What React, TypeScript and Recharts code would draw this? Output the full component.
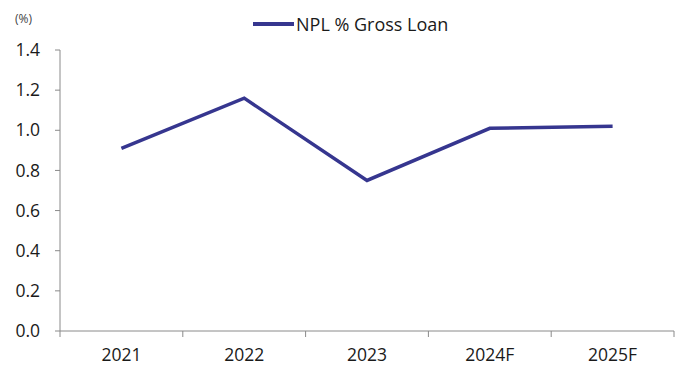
import { LineChart, Line, XAxis, YAxis } from "recharts";

const years = ["2021", "2022", "2023", "2024F", "2025F"];
const nplGrossLoan = [0.91, 1.16, 0.75, 1.01, 1.02];
const yTicks = [0, 0.2, 0.4, 0.6, 0.8, 1.0, 1.2, 1.4];

const data = years.map((year, i) => ({ pos: i + 0.5, year, npl: nplGrossLoan[i] }));
const xTicks = [0, ...years.flatMap((_, i) => [i + 0.5, i + 1])];

const FONT = "'Open Sans', sans-serif";
const LINE = "#36368f";

function XTick(props: any) {
    const { x, y, payload } = props;
    const v = payload.value as number;
    if (Number.isInteger(v)) {
        return <line x1={x} x2={x} y1={y} y2={y + 6} stroke="#8a8a8a" strokeWidth={1} />;
    }
    const label = years[Math.floor(v)];
    return (
        <text x={x} y={y + 30} textAnchor="middle" fontFamily={FONT} fontSize={17.5} fill="#1a1a1a">
            {label}
        </text>
    );
}

export default function App() {
    return (
        <div style={{ position: "absolute", left: 0, top: 0, width: 683, height: 368, background: "#fff" }}>
            <LineChart width={683} height={368} data={data} margin={{ top: 50, right: 9, bottom: 7, left: 0 }}>
                <XAxis
                    dataKey="pos"
                    type="number"
                    domain={[0, 5]}
                    ticks={xTicks}
                    interval={0}
                    height={30}
                    tickLine={false}
                    tickSize={0}
                    tickMargin={0}
                    tick={<XTick />}
                    axisLine={{ stroke: "#8a8a8a" }}
                />
                <YAxis
                    domain={[0, 1.4]}
                    ticks={yTicks}
                    interval={0}
                    width={60}
                    tickSize={5}
                    tickMargin={15}
                    tickFormatter={(v: number) => v.toFixed(1)}
                    tick={{ fontFamily: FONT, fontSize: 17.5, fill: "#1a1a1a" }}
                    tickLine={{ stroke: "#8a8a8a" }}
                    axisLine={{ stroke: "#8a8a8a" }}
                />
                <Line
                    type="linear"
                    dataKey="npl"
                    stroke={LINE}
                    strokeWidth={3.5}
                    dot={false}
                    isAnimationActive={false}
                />
            </LineChart>
            <div style={{ position: "absolute", left: 15, top: 10, fontFamily: FONT, fontSize: 12, color: "#444" }}>
                (%)
            </div>
            <div style={{ position: "absolute", left: 253, top: 12, display: "flex", alignItems: "center", fontFamily: FONT, fontSize: 18, color: "#1a1a1a" }}>
                <span style={{ display: "inline-block", width: 41, height: 3.5, background: LINE, marginRight: 2 }} />
                <span>NPL % Gross Loan</span>
            </div>
        </div>
    );
}
